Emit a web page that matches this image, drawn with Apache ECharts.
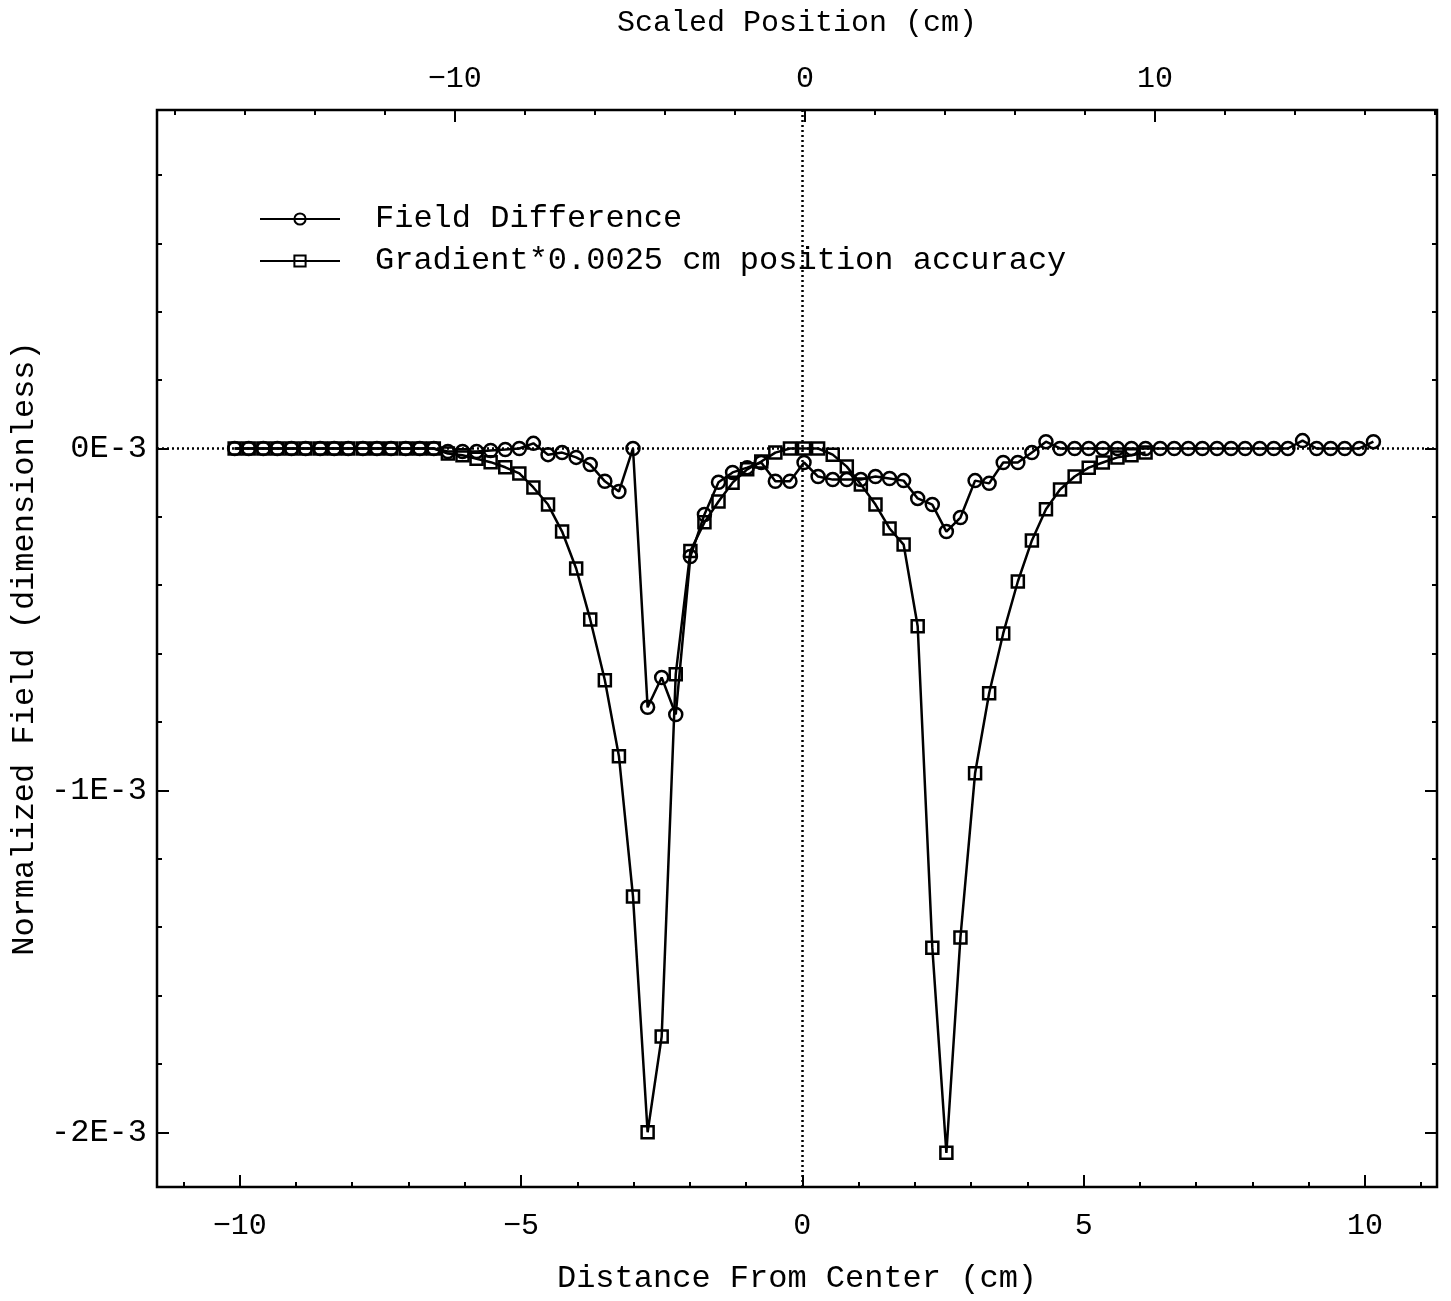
<!DOCTYPE html>
<html>
<head>
<meta charset="utf-8">
<script src="https://cdn.jsdelivr.net/npm/echarts@6/dist/echarts.min.js"></script>
<style>
  html, body { margin: 0; padding: 0; background: #fff; }
  #chart { width: 1451px; height: 1301px; }
</style>
</head>
<body>
<div id="chart"></div>
<script>
// Sample positions along the magnet axis (cm from center)
const positions = [
  -10.09, -9.84, -9.58, -9.33, -9.08, -8.83, -8.57, -8.32, -8.07, -7.81,
  -7.56, -7.31, -7.05, -6.80, -6.55, -6.30, -6.04, -5.79, -5.54, -5.28,
  -5.03, -4.78, -4.52, -4.27, -4.02, -3.77, -3.51, -3.26, -3.01, -2.75,
  -2.50, -2.25, -1.99, -1.74, -1.49, -1.24, -0.98, -0.73, -0.48, -0.22,
  0.03, 0.28, 0.54, 0.79, 1.04, 1.30, 1.55, 1.80, 2.05, 2.31,
  2.56, 2.81, 3.07, 3.32, 3.57, 3.83, 4.08, 4.33, 4.58, 4.84,
  5.09, 5.34, 5.60, 5.85, 6.10, 6.36, 6.61, 6.86, 7.11, 7.37,
  7.62, 7.87, 8.13, 8.38, 8.63, 8.89, 9.14, 9.39, 9.64, 9.90,
  10.15
];

// Field difference, in units of 1E-3
const fieldDifference = [
  0, 0, 0, 0, 0, 0, 0, 0, 0, 0,
  0, 0, 0, 0, 0, -0.009, -0.009, -0.009, -0.006, -0.003,
  0, 0.015, -0.018, -0.012, -0.026, -0.047, -0.096, -0.126, 0, -0.757,
  -0.67, -0.778, -0.316, -0.193, -0.099, -0.07, -0.056, -0.041, -0.096, -0.096,
  -0.041, -0.082, -0.091, -0.091, -0.091, -0.082, -0.088, -0.094, -0.146, -0.164,
  -0.243, -0.202, -0.094, -0.102, -0.041, -0.041, -0.012, 0.02, 0, 0,
  0, 0, 0, 0, 0, 0, 0, 0, 0, 0,
  0, 0, 0, 0, 0, 0.023, 0, 0, 0, 0,
  0.02
];

// Gradient * 0.0025 cm position accuracy, in units of 1E-3 (first 65 positions)
const gradientError = [
  0, 0, 0, 0, 0, 0, 0, 0, 0, 0,
  0, 0, 0, 0, 0, -0.015, -0.02, -0.03, -0.04, -0.055,
  -0.073, -0.114, -0.164, -0.243, -0.351, -0.5, -0.678, -0.9, -1.31, -2.0,
  -1.72, -0.66, -0.3, -0.216, -0.155, -0.1, -0.061, -0.038, -0.012, 0,
  0, 0, -0.018, -0.053, -0.105, -0.164, -0.234, -0.281, -0.52, -1.46,
  -2.06, -1.43, -0.95, -0.716, -0.541, -0.389, -0.269, -0.178, -0.12, -0.082,
  -0.056, -0.041, -0.026, -0.02, -0.012
];

// Tick positions
const bottomMajorTicks = [-10, -5, 0, 5, 10];
const bottomMinorTicks = [-11, -10, -9, -8, -7, -6, -5, -4, -3, -2, -1, 0, 1, 2, 3, 4, 5, 6, 7, 8, 9, 10, 11];
const topMajorTicks = [-10, 0, 10];
const topMinorTicks = [-18, -16, -14, -12, -10, -8, -6, -4, -2, 0, 2, 4, 6, 8, 10, 12, 14, 16, 18];
const yMajorTicks = [-2, -1, 0];
const yMinorTicks = [-2, -1.8, -1.6, -1.4, -1.2, -1, -0.8, -0.6, -0.4, -0.2, 0, 0.2, 0.4, 0.6, 0.8];

const FONT = '"Liberation Mono", "DejaVu Sans Mono", monospace';
const INK = '#000';

const xRange = { min: -11.47, max: 11.28 };
const topRange = { min: -18.5, max: 18.05 };
const yRange = { min: -2.16, max: 0.99 };

function minus(v) { return String(v).replace('-', '\u2212'); }

function tickOnlyX(position, range, values, len) {
  return {
    type: 'value', position, min: range.min, max: range.max,
    axisLine: { show: false, onZero: false }, splitLine: { show: false },
    axisTick: { inside: true, length: len, customValues: values, lineStyle: { color: INK, width: 2 } },
    axisLabel: { show: false }
  };
}
function tickOnlyY(position, values, len) {
  return {
    type: 'value', position, min: yRange.min, max: yRange.max,
    axisLine: { show: false, onZero: false }, splitLine: { show: false },
    axisTick: { inside: true, length: len, customValues: values, lineStyle: { color: INK, width: 2 } },
    axisLabel: { show: false }
  };
}

const chart = echarts.init(document.getElementById('chart'), null, { renderer: 'canvas' });

const xAxes = [
  Object.assign(tickOnlyX('bottom', xRange, bottomMajorTicks, 12), {
    axisLabel: { show: true, customValues: bottomMajorTicks, formatter: minus, fontSize: 30, fontFamily: FONT, color: INK, margin: 24 },
    name: 'Distance From Center (cm)', nameLocation: 'middle', nameGap: 76,
    nameTextStyle: { fontSize: 32, fontFamily: FONT, color: INK }
  }),
  tickOnlyX('bottom', xRange, bottomMinorTicks, 5),
  Object.assign(tickOnlyX('top', topRange, topMajorTicks, 12), {
    axisLabel: { show: true, customValues: topMajorTicks, formatter: minus, fontSize: 30, fontFamily: FONT, color: INK, margin: 16 },
    name: 'Scaled Position (cm)', nameLocation: 'middle', nameGap: 72,
    nameTextStyle: { fontSize: 30, fontFamily: FONT, color: INK }
  }),
  tickOnlyX('top', topRange, topMinorTicks, 5)
];

const yAxes = [
  Object.assign(tickOnlyY('left', yMajorTicks, 12), {
    axisLabel: { show: true, customValues: yMajorTicks, formatter: v => v + 'E-3', fontSize: 32, fontFamily: FONT, color: INK, margin: 10 },
    name: 'Normalized Field (dimensionless)', nameLocation: 'middle', nameGap: 113,
    nameTextStyle: { fontSize: 32, fontFamily: FONT, color: INK }
  }),
  tickOnlyY('left', yMinorTicks, 5),
  tickOnlyY('right', yMajorTicks, 12),
  tickOnlyY('right', yMinorTicks, 5)
];

const hollow = { color: 'rgba(0,0,0,0)', borderColor: INK, borderWidth: 2.5 };

chart.setOption({
  animation: false,
  backgroundColor: '#fff',
  grid: { left: 157, right: 14, top: 110, bottom: 114, show: true, borderColor: INK, borderWidth: 2.5, backgroundColor: 'transparent' },
  legend: {
    orient: 'vertical', left: 254, top: 196,
    itemWidth: 80, itemHeight: 14, itemGap: 6,
    textStyle: { fontSize: 32, fontFamily: FONT, color: INK, lineHeight: 36, padding: [0, 0, 0, 30] },
    data: ['Field Difference', 'Gradient*0.0025 cm position accuracy']
  },
  xAxis: xAxes,
  yAxis: yAxes,
  series: [
    {
      name: 'Field Difference', type: 'line',
      data: positions.map((x, i) => [x, fieldDifference[i]]),
      symbol: 'circle', symbolSize: 13,
      itemStyle: hollow,
      lineStyle: { color: INK, width: 2.5 },
      z: 3,
      markLine: {
        silent: true, symbol: 'none', label: { show: false },
        lineStyle: { type: [2, 3], color: INK, width: 2.5 },
        data: [{ yAxis: 0 }, { xAxis: 0 }]
      }
    },
    {
      name: 'Gradient*0.0025 cm position accuracy', type: 'line',
      data: gradientError.map((y, i) => [positions[i], y]),
      symbol: 'rect', symbolSize: 12,
      itemStyle: hollow,
      lineStyle: { color: INK, width: 2.5 },
      z: 2
    }
  ]
});
</script>
</body>
</html>
